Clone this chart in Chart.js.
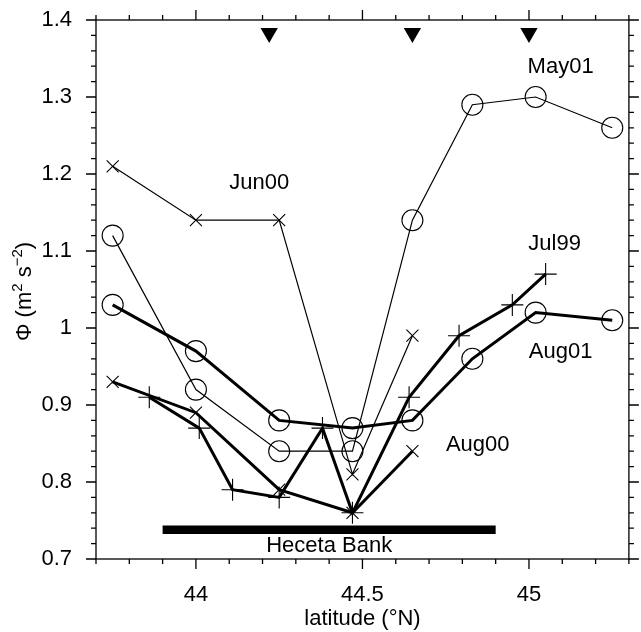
<!DOCTYPE html>
<html>
<head>
<meta charset="utf-8">
<script src="https://cdn.jsdelivr.net/npm/chart.js@4.4.1/dist/chart.umd.min.js"></script>
<style>
  html, body { margin: 0; padding: 0; background: #fff; }
  canvas { display: block; }
</style>
</head>
<body>
<canvas id="phiChart" width="641" height="632"></canvas>
<script>
// ---- data ----
const circLat = [43.75, 44.0, 44.25, 44.47, 44.65, 44.83, 45.02, 45.25];
const may01Phi = [1.12, 0.92, 0.84, 0.84, 1.14, 1.29, 1.30, 1.26];
const aug01Phi = [1.03, 0.97, 0.88, 0.87, 0.88, 0.96, 1.02, 1.01];

const xLat = [43.75, 44.0, 44.25, 44.47, 44.65];
const jun00Phi = [1.21, 1.14, 1.14, 0.81, 0.99];
const aug00Phi = [0.93, 0.89, 0.79, 0.76, 0.84];

const jul99Lat = [43.86, 44.01, 44.11, 44.25, 44.38, 44.47, 44.64, 44.79, 44.95, 45.05];
const jul99Phi = [0.91, 0.87, 0.79, 0.78, 0.87, 0.76, 0.91, 0.99, 1.03, 1.07];

// station markers along the top, and the bank extent
const markLat = [44.22, 44.65, 45.0];
const markPhi = [1.383, 1.383, 1.383];
const bankLat = [43.9, 44.9];
const bankPhi = [0.738, 0.738];

const xTickValues = [44, 44.5, 45];
const yTickValues = [0.7, 0.8, 0.9, 1.0, 1.1, 1.2, 1.3, 1.4];

// text annotations (data coords)
const notes = [
    { text: 'May01', lat: 45.095, phi: 1.339 },
    { text: 'Jun00', lat: 44.19, phi: 1.189 },
    { text: 'Jul99', lat: 45.077, phi: 1.109 },
    { text: 'Aug01', lat: 45.095, phi: 0.969 },
    { text: 'Aug00', lat: 44.846, phi: 0.848 },
    { text: 'Heceta Bank', lat: 44.40, phi: 0.7175 },
];

const FONT = '"Liberation Sans", Arial, Helvetica, sans-serif';
const pts = (xs, ys) => xs.map((v, i) => ({ x: v, y: ys[i] }));

function series(xs, ys, style, radius, width) {
    return {
        data: pts(xs, ys),
        showLine: true,
        borderColor: '#000',
        borderWidth: width,
        backgroundColor: 'rgba(0,0,0,0)',
        pointStyle: style,
        pointRadius: radius,
        pointBorderWidth: 1.1,
        pointBorderColor: '#000',
        pointBackgroundColor: 'rgba(0,0,0,0)',
        pointHoverRadius: radius,
    };
}

// y title with real superscripts, drawn rotated
function drawYTitle(ctx, cx, cy) {
    const parts = [
        { t: 'Φ (m', sup: false }, { t: '2', sup: true },
        { t: ' s', sup: false }, { t: '−2', sup: true }, { t: ')', sup: false },
    ];
    const big = '22px ' + FONT, small = '15px ' + FONT;
    let total = 0;
    parts.forEach(p => { ctx.font = p.sup ? small : big; p.w = ctx.measureText(p.t).width; total += p.w; });
    ctx.save();
    ctx.translate(cx, cy);
    ctx.rotate(-Math.PI / 2);
    ctx.textAlign = 'left';
    ctx.textBaseline = 'alphabetic';
    let pos = -total / 2;
    parts.forEach(p => {
        ctx.font = p.sup ? small : big;
        ctx.fillText(p.t, pos, p.sup ? -1 : 8);
        pos += p.w;
    });
    ctx.restore();
}

const frameTicks = {
    id: 'frameTicks',
    afterDraw(chart) {
        const { ctx, chartArea: a, scales: { x, y } } = chart;
        ctx.save();
        ctx.strokeStyle = '#000';
        ctx.lineWidth = 1.3;
        ctx.strokeRect(a.left, a.top, a.right - a.left, a.bottom - a.top);

        ctx.beginPath();
        for (let i = 0; i <= 16; i++) {
            const v = 43.7 + i * 0.1;
            const px = x.getPixelForValue(v);
            const major = Math.abs(v * 2 - Math.round(v * 2)) < 1e-6;
            const len = major ? 10 : 5;
            ctx.moveTo(px, a.bottom); ctx.lineTo(px, a.bottom + len);
            ctx.moveTo(px, a.top); ctx.lineTo(px, a.top - len);
        }
        for (let i = 0; i <= 35; i++) {
            const py = y.getPixelForValue(0.7 + i * 0.02);
            const len = i % 5 === 0 ? 10 : 5;
            ctx.moveTo(a.left, py); ctx.lineTo(a.left - len, py);
            ctx.moveTo(a.right, py); ctx.lineTo(a.right + len, py);
        }
        ctx.stroke();

        ctx.fillStyle = '#000';
        ctx.font = '22px ' + FONT;
        ctx.textAlign = 'center';
        ctx.textBaseline = 'middle';
        notes.forEach(n => ctx.fillText(n.text, x.getPixelForValue(n.lat), y.getPixelForValue(n.phi)));

        drawYTitle(ctx, 23, (a.top + a.bottom) / 2 + 2);
        ctx.restore();
    }
};

new Chart(document.getElementById('phiChart'), {
    type: 'scatter',
    data: {
        datasets: [
            series(circLat, may01Phi, 'circle', 10.5, 1.2),
            series(circLat, aug01Phi, 'circle', 10.5, 3),
            series(xLat, jun00Phi, 'crossRot', 8.5, 1.2),
            series(xLat, aug00Phi, 'crossRot', 8.5, 3),
            series(jul99Lat, jul99Phi, 'cross', 11, 3),
            {
                data: pts(bankLat, bankPhi),
                showLine: true,
                borderColor: '#000',
                borderWidth: 8.5,
                borderCapStyle: 'butt',
                pointRadius: 0,
                pointHoverRadius: 0,
            },
            {
                data: pts(markLat, markPhi),
                showLine: false,
                pointStyle: 'triangle',
                rotation: 180,
                pointRadius: 10,
                pointHoverRadius: 10,
                pointBorderWidth: 0,
                pointBackgroundColor: '#000',
                pointBorderColor: '#000',
            },
        ]
    },
    options: {
        responsive: false,
        animation: false,
        devicePixelRatio: 1,
        layout: { padding: { left: 0, right: 6, top: 20, bottom: 0 } },
        plugins: { legend: { display: false }, tooltip: { enabled: false } },
        scales: {
            x: {
                type: 'linear',
                min: 43.7, max: 45.3,
                afterBuildTicks: s => { s.ticks = xTickValues.map(v => ({ value: v })); },
                afterFit: s => { s.height = 73; s.paddingLeft = 0; s.paddingRight = 0; },
                grid: { display: false, drawTicks: false },
                border: { display: false },
                ticks: {
                    color: '#000', padding: 23, maxRotation: 0, autoSkip: false,
                    font: { family: FONT, size: 22 },
                    callback: v => String(+v.toFixed(1)),
                },
                title: {
                    display: true, text: 'latitude (°N)', color: '#000',
                    font: { family: FONT, size: 22 }, padding: { top: 0, bottom: 0 },
                },
            },
            y: {
                type: 'linear',
                min: 0.7, max: 1.4,
                afterBuildTicks: s => { s.ticks = yTickValues.map(v => ({ value: v })); },
                afterFit: s => { s.width = 96; s.paddingTop = 0; s.paddingBottom = 0; },
                grid: { display: false, drawTicks: false },
                border: { display: false },
                ticks: {
                    color: '#000', padding: 24, autoSkip: false,
                    font: { family: FONT, size: 22 },
                    callback: v => String(+v.toFixed(1)),
                },
            },
        },
    },
    plugins: [frameTicks],
});
</script>
</body>
</html>
